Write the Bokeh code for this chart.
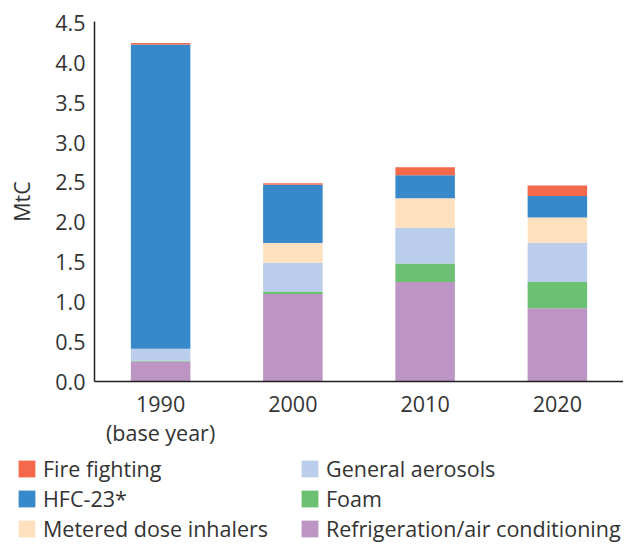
from bokeh.plotting import figure
from bokeh.models import (ColumnDataSource, Range1d, FactorRange, FixedTicker,
                          Legend, LegendItem, NumeralTickFormatter, CategoricalAxis,
                          CustomJSTickFormatter)
from bokeh.embed import file_html
from bokeh.resources import INLINE

years = ["1990", "2000", "2010", "2020"]
year_notes = ["(base year)", "", "", ""]
refrigeration = [0.25, 1.10, 1.25, 0.92]
foam = [0.01, 0.03, 0.23, 0.33]
aerosols = [0.15, 0.36, 0.45, 0.49]
inhalers = [0.00, 0.25, 0.37, 0.32]
hfc23 = [3.82, 0.73, 0.29, 0.27]
fire = [0.02, 0.02, 0.10, 0.13]

series = ["refrigeration", "foam", "aerosols", "inhalers", "hfc23", "fire"]
legend_col1 = ["fire", "hfc23", "inhalers"]
legend_col2 = ["aerosols", "foam", "refrigeration"]
labels = {
    "fire": "Fire fighting",
    "hfc23": "HFC-23*",
    "inhalers": "Metered dose inhalers",
    "aerosols": "General aerosols",
    "foam": "Foam",
    "refrigeration": "Refrigeration/air conditioning",
}
colors = {
    "refrigeration": "#BC95C4",
    "foam": "#6CC072",
    "aerosols": "#BACDEB",
    "inhalers": "#FFE1C0",
    "hfc23": "#3789C9",
    "fire": "#F4684C",
}
y_ticks = [0.0, 0.5, 1.0, 1.5, 2.0, 2.5, 3.0, 3.5, 4.0, 4.5]

source = ColumnDataSource(dict(years=years, refrigeration=refrigeration, foam=foam,
                               aerosols=aerosols, inhalers=inhalers, hfc23=hfc23, fire=fire))

FONT = "Open Sans"
TXT = "#333333"
FS = "21.5px"
W = 623

# ---------------- main chart ----------------
p = figure(x_range=FactorRange(*years, range_padding=0), y_range=Range1d(0, 4.52),
           width=W, height=449, output_backend="svg", toolbar_location=None,
           min_border_left=94, min_border_right=0, min_border_top=21, min_border_bottom=67)
p.outline_line_color = None
p.xgrid.grid_line_color = None
p.ygrid.grid_line_color = None

p.vbar_stack(series, x="years", width=0.45, source=source,
             color=[colors[s] for s in series], line_width=0)

def style_axis(ax):
    ax.axis_line_color = "#231F20"
    ax.axis_line_width = 1.5
    ax.major_tick_line_color = None
    ax.minor_tick_line_color = None
    ax.major_label_text_font = FONT
    ax.major_label_text_font_size = FS
    ax.major_label_text_color = TXT
    ax.axis_label_text_font = FONT
    ax.axis_label_text_font_size = FS
    ax.axis_label_text_color = TXT
    ax.axis_label_text_font_style = "normal"

style_axis(p.xaxis[0])
style_axis(p.yaxis[0])

p.yaxis.ticker = FixedTicker(ticks=y_ticks)
p.yaxis.formatter = NumeralTickFormatter(format="0.0")
p.yaxis.axis_label = "MtC"
p.yaxis.major_label_standoff = 3
p.yaxis.axis_label_standoff = 16
p.xaxis.major_label_standoff = 8

note_axis = CategoricalAxis(formatter=CustomJSTickFormatter(
    args=dict(years=years, notes=year_notes),
    code="const i = years.indexOf(tick); return i >= 0 ? notes[i] : '';"))
style_axis(note_axis)
note_axis.axis_line_color = None
note_axis.major_label_standoff = -3
p.add_layout(note_axis, "below")

# ---------------- legend strip (separate root, same data, bars out of view) ----------------
lg = figure(width=W, height=94, output_backend="svg", toolbar_location=None,
            x_range=FactorRange(*years), y_range=Range1d(10, 11),
            x_axis_type=None, y_axis_type=None, min_border=0)
lg.outline_line_color = None
lg.xgrid.grid_line_color = None
lg.ygrid.grid_line_color = None

swatch = dict(zip(series, lg.vbar_stack(series, x="years", width=0.45, source=source,
                                        color=[colors[s] for s in series], line_width=0)))

def make_legend(keys, vx):
    leg = Legend(items=[LegendItem(label=labels[k], renderers=[swatch[k]]) for k in keys],
                 location=(vx, 0), orientation="vertical")
    leg.border_line_color = None
    leg.background_fill_alpha = 0
    leg.padding = 0
    leg.margin = 0
    leg.glyph_width = 21
    leg.glyph_height = 21
    leg.label_height = 21
    leg.spacing = 1
    leg.label_standoff = 6
    leg.label_text_font = FONT
    leg.label_text_font_size = FS
    leg.label_text_color = TXT
    return leg

lg.add_layout(make_legend(legend_col1, 16))
lg.add_layout(make_legend(legend_col2, 299))

open("out.html", "w").write(file_html([p, lg], INLINE))
